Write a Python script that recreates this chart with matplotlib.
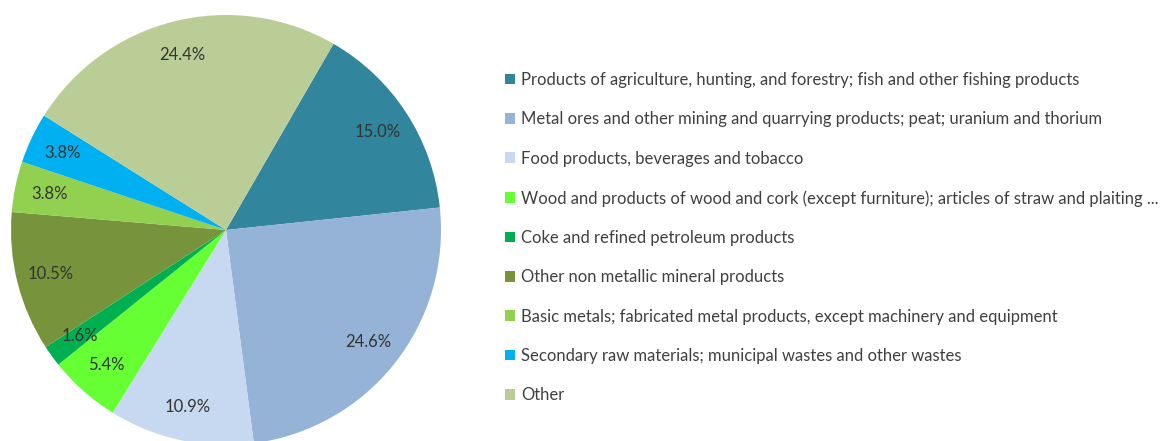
import matplotlib.pyplot as plt

plt.rcParams['font.family'] = ['Lato', 'DejaVu Sans']

labels = [
    "Products of agriculture, hunting, and forestry; fish and other fishing products",
    "Metal ores and other mining and quarrying products; peat; uranium and thorium",
    "Food products, beverages and tobacco",
    "Wood and products of wood and cork (except furniture); articles of straw and plaiting ...",
    "Coke and refined petroleum products",
    "Other non metallic mineral products",
    "Basic metals; fabricated metal products, except machinery and equipment",
    "Secondary raw materials; municipal wastes and other wastes",
    "Other",
]
shares = [15.0, 24.6, 10.9, 5.4, 1.6, 10.5, 3.8, 3.8, 24.4]
colors = ["#31859C", "#95B3D7", "#C6D9F1", "#66FF33", "#00B050",
          "#77933C", "#92D050", "#00B0F0", "#BBCD97"]

fig = plt.figure(figsize=(11.67, 4.41), dpi=100)
ax = fig.add_axes([11 / 1167, -4 / 441, 430 / 1167, 430 / 441])

wedges, texts, autotexts = ax.pie(
    shares, colors=colors, startangle=60, counterclock=False,
    autopct="%.1f%%", pctdistance=0.84, radius=1,
    textprops={"fontsize": 12, "color": "#333333"})
ax.set_xlim(-1, 1)
ax.set_ylim(-1, 1)
ax.set_aspect("equal")
ax.axis("off")

fig.legend(wedges, labels, loc="upper left", bbox_to_anchor=(505 / 1167, 1 - 72 / 441),
           frameon=False, fontsize=12, labelcolor="#404040",
           handlelength=0.6, handleheight=0.6, handletextpad=0.36,
           labelspacing=1.40, borderaxespad=0, borderpad=0)

fig.savefig("out.png", dpi=100)
